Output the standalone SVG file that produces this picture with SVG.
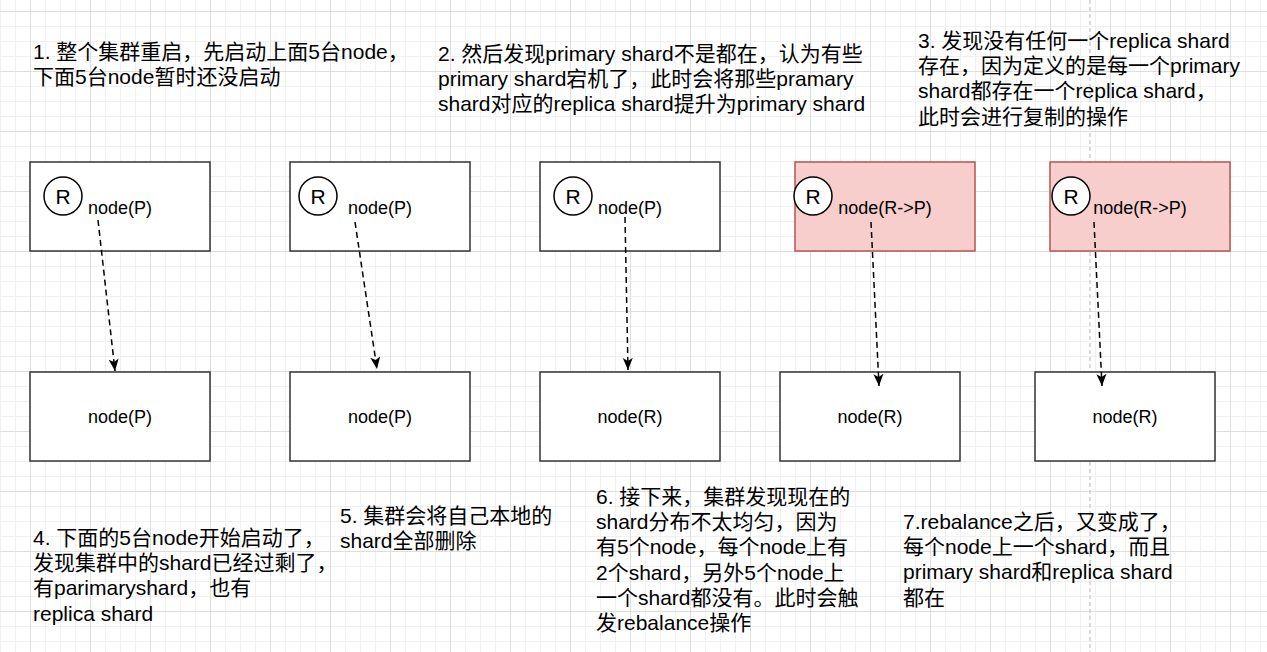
<svg xmlns="http://www.w3.org/2000/svg" width="1267" height="652" viewBox="0 0 1267 652">
<defs>
<pattern id="grid" x="30" y="11" width="60" height="60" patternUnits="userSpaceOnUse">
<path d="M15.5,0V60M30.5,0V60M45.5,0V60M0,15.5H60M0,30.5H60M0,45.5H60" stroke="#f0f0f0" stroke-width="1" fill="none"/>
<path d="M0.5,0V60M0,0.5H60" stroke="#dedede" stroke-width="1" fill="none"/>
</pattern>
<marker id="arr" markerUnits="userSpaceOnUse" markerWidth="12" markerHeight="12" viewBox="0 0 12 12" refX="12" refY="6" orient="auto">
<path d="M0,1 L12,6 L0,11 L3,6 z" fill="#000"/>
</marker>
<style>
.box{fill:#fff;stroke:#333;stroke-width:1.5}
.pink{fill:#f8cecc;stroke:#b85450;stroke-width:1.5}
.circ{fill:#fff;stroke:#000;stroke-width:1.5}
.nt{font-family:"Liberation Sans",Arial,sans-serif;font-size:18px;fill:#000;text-anchor:middle}
.rt{font-family:"Liberation Sans",Arial,sans-serif;font-size:21px;fill:#000;text-anchor:middle}
.dt{font-family:"Liberation Sans",Arial,"Noto Sans CJK SC",sans-serif;font-size:21px;fill:#000}
.edge{stroke:#000;stroke-width:1.5;stroke-dasharray:6 4;fill:none;marker-end:url(#arr)}
</style>
</defs>
<rect width="1267" height="652" fill="#fff"/>
<rect width="1267" height="652" fill="url(#grid)"/>
<line x1="1090" y1="0" x2="1090" y2="652" stroke="#d0d0d0" stroke-width="1.5" stroke-dasharray="4 3"/>

<g id="top1"><rect class="box" x="30" y="162" width="180" height="89"/><circle class="circ" cx="63" cy="196" r="19"/><text class="rt" x="63" y="203.5">R</text><text class="nt" x="120" y="214">node(P)</text></g>
<g id="top2"><rect class="box" x="290" y="162" width="180" height="89"/><circle class="circ" cx="318" cy="196" r="19"/><text class="rt" x="318" y="203.5">R</text><text class="nt" x="380" y="214">node(P)</text></g>
<g id="top3"><rect class="box" x="540" y="162" width="180" height="89"/><circle class="circ" cx="573" cy="196" r="19"/><text class="rt" x="573" y="203.5">R</text><text class="nt" x="630" y="214">node(P)</text></g>
<g id="top4"><rect class="pink" x="795" y="162" width="180" height="89"/><circle class="circ" cx="813" cy="196" r="19"/><text class="rt" x="813" y="203.5">R</text><text class="nt" x="885" y="214">node(R-&gt;P)</text></g>
<g id="top5"><rect class="pink" x="1050" y="162" width="180" height="89"/><circle class="circ" cx="1071" cy="196" r="19"/><text class="rt" x="1071" y="203.5">R</text><text class="nt" x="1140" y="214">node(R-&gt;P)</text></g>

<g id="bot1"><rect class="box" x="30" y="372" width="180" height="89"/><text class="nt" x="120" y="423">node(P)</text></g>
<g id="bot2"><rect class="box" x="290" y="372" width="180" height="89"/><text class="nt" x="380" y="423">node(P)</text></g>
<g id="bot3"><rect class="box" x="540" y="372" width="180" height="89"/><text class="nt" x="630" y="423">node(R)</text></g>
<g id="bot4"><rect class="box" x="780" y="372" width="180" height="89"/><text class="nt" x="870" y="423">node(R)</text></g>
<g id="bot5"><rect class="box" x="1035" y="372" width="180" height="89"/><text class="nt" x="1125" y="423">node(R)</text></g>

<g id="connectors">
<line class="edge" x1="98" y1="220" x2="115" y2="371"/>
<line class="edge" x1="355" y1="222" x2="377" y2="369"/>
<line class="edge" x1="625" y1="217" x2="628" y2="370"/>
<line class="edge" x1="871" y1="222" x2="879" y2="386"/>
<line class="edge" x1="1094" y1="222" x2="1102" y2="386"/>
</g>

<g id="desc1"><text class="dt" x="33" y="59">1. 整个集群重启，先启动上面5台node，</text><text class="dt" x="33" y="84">下面5台node暂时还没启动</text></g>
<g id="desc2"><text class="dt" x="438" y="61">2. 然后发现primary shard不是都在，认为有些</text><text class="dt" x="438" y="86.2">primary shard宕机了，此时会将那些pramary</text><text class="dt" x="438" y="111.4">shard对应的replica shard提升为primary shard</text></g>
<g id="desc3"><text class="dt" x="918" y="48">3. 发现没有任何一个replica shard</text><text class="dt" x="918" y="73.2">存在，因为定义的是每一个primary</text><text class="dt" x="918" y="98.4">shard都存在一个replica shard，</text><text class="dt" x="918" y="123.6">此时会进行复制的操作</text></g>
<g id="desc4"><text class="dt" x="33" y="545">4. 下面的5台node开始启动了，</text><text class="dt" x="33" y="570.2">发现集群中的shard已经过剩了，</text><text class="dt" x="33" y="595.4">有parimaryshard，也有</text><text class="dt" x="33" y="620.6">replica shard</text></g>
<g id="desc5"><text class="dt" x="340" y="523">5. 集群会将自己本地的</text><text class="dt" x="340" y="548.2">shard全部删除</text></g>
<g id="desc6"><text class="dt" x="596" y="504">6. 接下来，集群发现现在的</text><text class="dt" x="596" y="529.2">shard分布不太均匀，因为</text><text class="dt" x="596" y="554.4">有5个node，每个node上有</text><text class="dt" x="596" y="579.6">2个shard，另外5个node上</text><text class="dt" x="596" y="604.8">一个shard都没有。此时会触</text><text class="dt" x="596" y="630">发rebalance操作</text></g>
<g id="desc7"><text class="dt" x="903" y="529">7.rebalance之后，又变成了，</text><text class="dt" x="903" y="554.2">每个node上一个shard，而且</text><text class="dt" x="903" y="579.4">primary shard和replica shard</text><text class="dt" x="903" y="604.6">都在</text></g>
</svg>
